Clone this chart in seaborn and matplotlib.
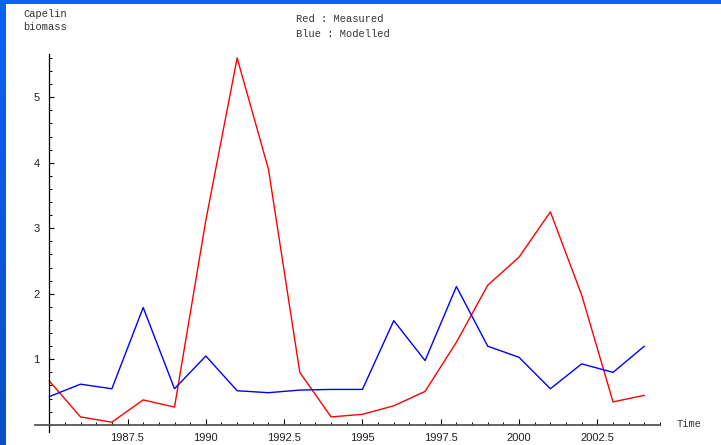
import numpy as np
import pandas as pd
import matplotlib
matplotlib.use("Agg")
import matplotlib.pyplot as plt
from matplotlib.ticker import MultipleLocator, FixedLocator
import seaborn as sns

# Capelin biomass, measured vs modelled, 1985-2004
years = list(range(1985, 2005))
measured = [0.67, 0.12, 0.04, 0.38, 0.27, 3.12, 5.60, 3.90, 0.80, 0.12,
            0.16, 0.29, 0.51, 1.26, 2.13, 2.56, 3.25, 1.98, 0.35, 0.45]
modelled = [0.43, 0.62, 0.55, 1.79, 0.55, 1.05, 0.52, 0.49, 0.53, 0.54,
            0.54, 1.59, 0.98, 2.11, 1.20, 1.03, 0.55, 0.93, 0.80, 1.20]
x_ticks = [1987.5, 1990, 1992.5, 1995, 1997.5, 2000, 2002.5]
y_ticks = [1, 2, 3, 4, 5]

sns.set_style("white")
plt.rcParams["font.family"] = ["Liberation Sans", "DejaVu Sans"]
mono = ["Liberation Mono", "DejaVu Sans Mono"]

df = pd.DataFrame({"Time": years * 2,
                   "Biomass": measured + modelled,
                   "Series": ["Measured"] * len(years) + ["Modelled"] * len(years)})

fig = plt.figure(figsize=(7.21, 4.45), dpi=100)
fig.patch.set_facecolor("white")

# blue window frame: left gradient strip and top strip
frame = fig.add_axes([0, 0, 6 / 721, 1])
grad = np.linspace(0, 1, 256).reshape(-1, 1)
frame.imshow(grad, aspect="auto", extent=[0, 1, 0, 1], origin="upper",
             cmap=matplotlib.colors.LinearSegmentedColormap.from_list(
                 "edge", ["#0b62f6", "#0a4fc4"]))
frame.set_axis_off()
fig.patches.append(matplotlib.patches.Rectangle(
    (0, 1 - 4 / 445), 1, 4 / 445, transform=fig.transFigure,
    facecolor="#0b62f6", edgecolor="none", zorder=5))

ax = fig.add_axes([34.5 / 721, 13 / 445, 625.5 / 721, 378 / 445])
ax.set_facecolor("none")
sns.lineplot(data=df, x="Time", y="Biomass", hue="Series",
             palette={"Measured": "#ff0000", "Modelled": "#0000ff"},
             linewidth=1.0, legend=False, ax=ax)

ax.set_xlim(1984.53, 2004.5)
ax.set_ylim(-0.11, 5.66)
ax.set_xlabel("")
ax.set_ylabel("")

for s in ("top", "right"):
    ax.spines[s].set_visible(False)
ax.spines["left"].set_position(("data", 1985))
ax.spines["bottom"].set_position(("data", 0))
ax.spines["left"].set_color("black")
ax.spines["left"].set_linewidth(0.9)
ax.spines["bottom"].set_color("#555555")
ax.spines["bottom"].set_linewidth(1.3)

ax.xaxis.set_major_locator(FixedLocator(x_ticks))
ax.xaxis.set_minor_locator(MultipleLocator(0.5))
ax.yaxis.set_major_locator(FixedLocator(y_ticks))
ax.yaxis.set_minor_locator(MultipleLocator(0.2))
ax.set_xticklabels([f"{t:g}" for t in x_ticks])
ax.set_yticklabels([str(t) for t in y_ticks])

ax.tick_params(axis="x", which="major", direction="in", length=4.5, width=0.8,
               color="black", labelsize=8, labelcolor="#222222", pad=6,
               bottom=True, left=False)
ax.tick_params(axis="x", which="minor", direction="in", length=2.2, width=0.7,
               color="black", bottom=True)
ax.tick_params(axis="y", which="major", direction="in", length=3.5, width=0.8,
               color="black", labelsize=8, labelcolor="#222222", pad=7,
               left=True)
ax.tick_params(axis="y", which="minor", direction="in", length=2.2, width=0.7,
               color="black", left=True)

# text labels
fig.text(23 / 721, 1 - 14 / 445, "Capelin", family=mono, fontsize=7.5,
         color="#333333", va="center", ha="left")
fig.text(23 / 721, 1 - 27 / 445, "biomass", family=mono, fontsize=7.5,
         color="#333333", va="center", ha="left")
fig.text(296 / 721, 1 - 19 / 445, "Red : Measured", family=mono, fontsize=7.5,
         color="#333333", va="center", ha="left")
fig.text(296 / 721, 1 - 34 / 445, "Blue : Modelled", family=mono, fontsize=7.5,
         color="#333333", va="center", ha="left")
fig.text(677 / 721, 1 - 424 / 445, "Time", family=mono, fontsize=7.5,
         color="#333333", va="center", ha="left")

fig.savefig("out.png", dpi=100)
